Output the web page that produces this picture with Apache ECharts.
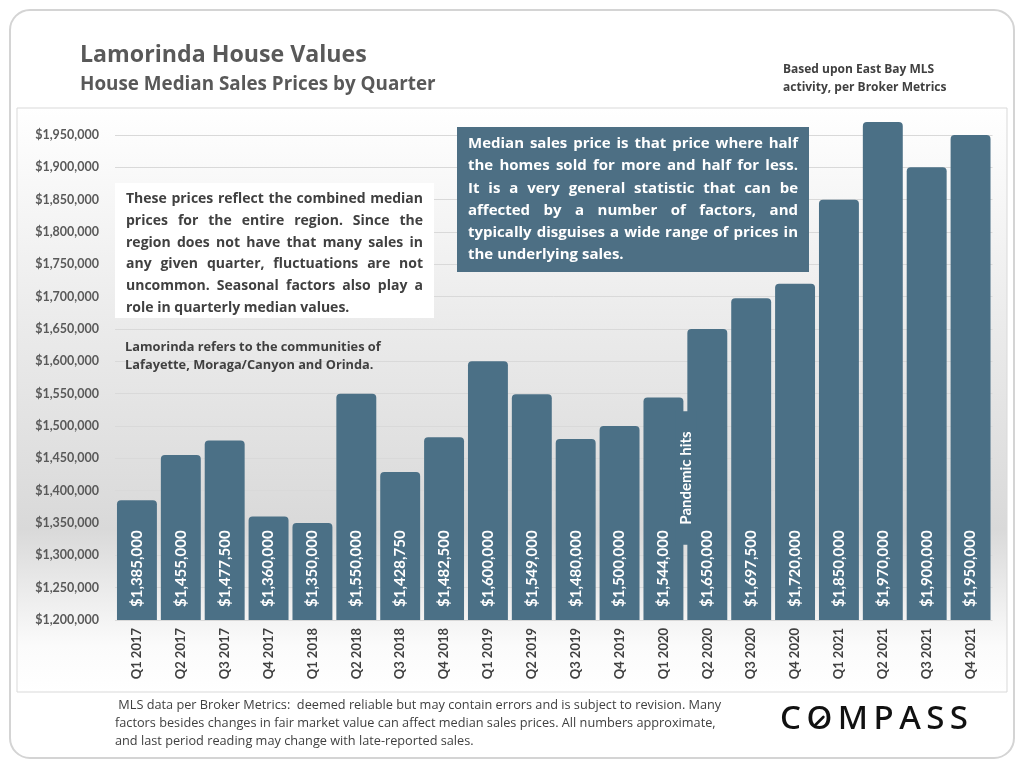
<!DOCTYPE html>
<html>
<head>
<meta charset="utf-8">
<script src="https://cdn.jsdelivr.net/npm/echarts@6/dist/echarts.min.js"></script>
<style>
  html, body { margin: 0; padding: 0; background: #fff; }
  #main { width: 1024px; height: 768px; }
</style>
</head>
<body>
<div id="main"></div>
<script>
// quarters and median prices
var quarters = ['Q1 2017','Q2 2017','Q3 2017','Q4 2017','Q1 2018','Q2 2018','Q3 2018','Q4 2018',
  'Q1 2019','Q2 2019','Q3 2019','Q4 2019','Q1 2020','Q2 2020','Q3 2020','Q4 2020',
  'Q1 2021','Q2 2021','Q3 2021','Q4 2021'];
var medianPrice = [1385000,1455000,1477500,1360000,1350000,1550000,1428750,1482500,
  1600000,1549000,1480000,1500000,1544000,1650000,1697500,1720000,
  1850000,1970000,1900000,1950000];

var leftNote = [
  'These prices reflect the combined median',
  'prices for the entire region. Since the',
  'region does not have that many sales in',
  'any given quarter, fluctuations are not',
  'uncommon. Seasonal factors also play a',
  'role in quarterly median values.'
];
var rightNote = [
  'Median sales price is that price where half',
  'the homes sold for more and half for less.',
  'It is a very general statistic that can be',
  'affected by a number of factors, and',
  'typically disguises a wide range of prices in',
  'the underlying sales.'
];
var footNote = [
  ' MLS data per Broker Metrics:  deemed reliable but may contain errors and is subject to revision. Many',
  'factors besides changes in fair market value can affect median sales prices. All numbers approximate,',
  'and last period reading may change with late-reported sales.'
];

var barColor = '#4b7086';
var FONT = 'Lato, sans-serif';
var SANS = '"Open Sans", sans-serif';

var measureCtx = document.createElement('canvas').getContext('2d');

function money(v){
  return '$' + v.toLocaleString('en-US');
}

// font size that makes text as wide as target
function fitSize(text, weight, family, target){
  measureCtx.font = weight + ' 100px ' + family;
  return 100*target/measureCtx.measureText(text).width;
}

// spread the words of each line between x0 and x1 (last line left aligned)
function justified(lines, x0, x1, y0, lineH, font, color){
  var out = [];
  measureCtx.font = font;
  for(var i=0;i<lines.length;i++){
    var y = y0 + i*lineH;
    var words = lines[i].split(' ');
    if(i == lines.length-1 || words.length < 2){
      out.push({type:'text', x:x0, y:y, z:101,
        style:{text:lines[i], fill:color, font:font, align:'left', verticalAlign:'middle'}});
      continue;
    }
    var total = 0;
    for(var w=0;w<words.length;w++) total += measureCtx.measureText(words[w]).width;
    var gap = (x1 - x0 - total)/(words.length-1);
    var x = x0;
    for(var w=0;w<words.length;w++){
      out.push({type:'text', x:x, y:y, z:101,
        style:{text:words[w], fill:color, font:font, align:'left', verticalAlign:'middle'}});
      x += measureCtx.measureText(words[w]).width + gap;
    }
  }
  return out;
}

// logo letters spread over a fixed width, with the slashed O
function logo(word, x0, x1, y, font, color){
  var out = [];
  measureCtx.font = font;
  var total = 0;
  for(var i=0;i<word.length;i++) total += measureCtx.measureText(word[i]).width;
  var gap = (x1 - x0 - total)/(word.length-1);
  var x = x0;
  for(var i=0;i<word.length;i++){
    var wd = measureCtx.measureText(word[i]).width;
    out.push({type:'text', x:x, y:y, z:101,
      style:{text:word[i], fill:color, font:font, align:'left', verticalAlign:'middle'}});
    if(word[i] == 'O'){
      var cx = x + wd/2;
      out.push({type:'line', z:102, shape:{x1:cx-4, y1:y+5, x2:cx+4, y2:y-3},
        style:{stroke:color, lineWidth:2.6, lineCap:'round'}});
    }
    x += wd + gap;
  }
  return out;
}

var titleSize = fitSize('Lamorinda House Values', 'bold', SANS, 287);
var subSize = fitSize('House Median Sales Prices by Quarter', 'bold', SANS, 356);
var footSize = fitSize(footNote[0], 'normal', SANS, 607);

var graphics = [
  // outer rounded frame
  {type:'rect', z:-20, shape:{x:10, y:10, width:1004, height:748, r:20},
    style:{fill:'#fff', stroke:'#d4d4d4', lineWidth:2}},
  // chart panel with vertical shading
  {type:'rect', z:-10, shape:{x:17, y:108, width:990, height:584},
    style:{
      fill: new echarts.graphic.LinearGradient(0,0,0,1,[
        {offset:0, color:'#ffffff'},
        {offset:0.35, color:'#ececec'},
        {offset:0.72, color:'#d9d9d9'},
        {offset:0.92, color:'#fbfbfb'},
        {offset:1, color:'#ffffff'}
      ]),
      stroke:'#d9d9d9', lineWidth:1}},
  {type:'text', x:80, y:55, z:101,
    style:{text:'Lamorinda House Values', fill:'#595959', font:'bold ' + titleSize + 'px ' + SANS, align:'left', verticalAlign:'middle'}},
  {type:'text', x:80, y:85, z:101,
    style:{text:'House Median Sales Prices by Quarter', fill:'#595959', font:'bold ' + subSize + 'px ' + SANS, align:'left', verticalAlign:'middle'}},
  {type:'text', x:783, y:70, z:101,
    style:{text:'Based upon East Bay MLS', fill:'#404040', font:'bold 12px ' + SANS, align:'left', verticalAlign:'middle'}},
  {type:'text', x:783, y:88, z:101,
    style:{text:'activity, per Broker Metrics', fill:'#404040', font:'bold 12px ' + SANS, align:'left', verticalAlign:'middle'}},
  // white note box
  {type:'rect', z:100, shape:{x:115, y:183, width:319, height:135}, style:{fill:'#ffffff'}},
  // blue note box
  {type:'rect', z:100, shape:{x:457, y:127, width:352, height:145}, style:{fill:'#4d6f84'}},
  {type:'text', x:125, y:347, z:101,
    style:{text:'Lamorinda refers to the communities of', fill:'#404040', font:'bold 12.8px ' + SANS, align:'left', verticalAlign:'middle'}},
  {type:'text', x:125, y:365, z:101,
    style:{text:'Lafayette, Moraga/Canyon and Orinda.', fill:'#404040', font:'bold 12.8px ' + SANS, align:'left', verticalAlign:'middle'}},
  // pandemic marker
  {type:'text', x:686, y:478, z:101, rotation:Math.PI/2,
    style:{text:'Pandemic hits', fill:'#ffffff', font:'bold 15px ' + FONT, align:'center', verticalAlign:'middle',
      backgroundColor:barColor, padding:[3,20]}}
];
graphics = graphics.concat(justified(leftNote, 126, 423, 199, 21.8, 'bold 14px ' + SANS, '#404040'));
graphics = graphics.concat(justified(rightNote, 468, 798, 144, 22.2, 'bold 15px ' + SANS, '#ffffff'));
for(var i=0;i<footNote.length;i++){
  graphics.push({type:'text', x:115, y:705 + i*18, z:101,
    style:{text:footNote[i], fill:'#404040', font:footSize + 'px ' + SANS, align:'left', verticalAlign:'middle'}});
}
graphics = graphics.concat(logo('COMPASS', 780, 968, 720, '500 33px "Noto Sans", sans-serif', '#111111'));

var myChart = echarts.init(document.getElementById('main'));
var option = {
  animation: false,
  grid: {left:115, top:115.6, width:877.5, height:504.4, containLabel:false},
  xAxis: {
    type:'category',
    data: quarters,
    axisLine:{show:false},
    axisTick:{show:false},
    axisLabel:{rotate:90, margin:8, color:'#404040', fontWeight:'bold', fontSize:13, fontFamily:FONT}
  },
  yAxis: {
    type:'value',
    min:1200000,
    max:1980000,
    interval:50000,
    axisLine:{show:false},
    axisTick:{show:false},
    axisLabel:{showMaxLabel:false, margin:16, color:'#595959', fontWeight:'bold', fontSize:12.5, fontFamily:FONT,
      formatter:function(v){return money(v);}},
    splitLine:{showMaxLine:false, lineStyle:{color:'#d9d9d9', width:1}}
  },
  series: [{
    type:'bar',
    data: medianPrice,
    barCategoryGap:'9%',
    itemStyle:{color:barColor, borderRadius:[4,4,0,0]},
    label:{
      show:true,
      position:'insideBottom',
      rotate:90,
      align:'left',
      verticalAlign:'middle',
      distance:13,
      color:'#ffffff',
      fontWeight:'bold',
      fontSize:15,
      fontFamily:FONT,
      formatter:function(p){return money(p.value);}
    }
  }],
  graphic: graphics
};
myChart.setOption(option);
</script>
</body>
</html>
